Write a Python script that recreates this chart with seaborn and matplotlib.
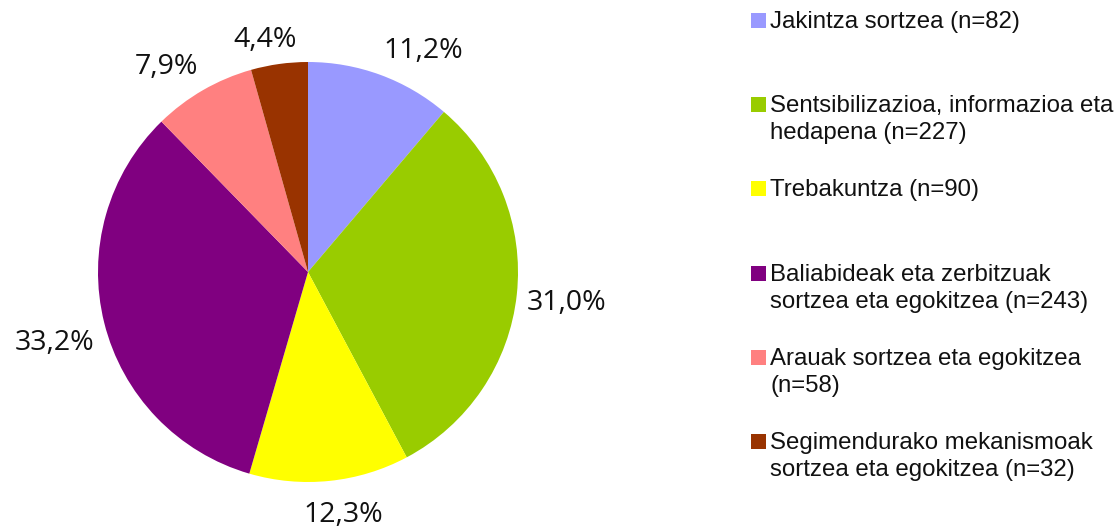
import numpy as np
import matplotlib
matplotlib.use("Agg")
import matplotlib.pyplot as plt
from matplotlib.patches import Rectangle
import seaborn as sns

# data
categories = [
    "Jakintza sortzea (n=82)",
    "Sentsibilizazioa, informazioa eta\nhedapena (n=227)",
    "Trebakuntza (n=90)",
    "Baliabideak eta zerbitzuak\nsortzea eta egokitzea (n=243)",
    "Arauak sortzea eta egokitzea\n(n=58)",
    "Segimendurako mekanismoak\nsortzea eta egokitzea (n=32)",
]
counts = [82, 227, 90, 243, 58, 32]
colors = ["#9999FF", "#99CC00", "#FFFF00", "#800080", "#FF8080", "#993300"]

sns.set_theme(style="white")
plt.rcParams["font.family"] = ["Liberation Sans", "DejaVu Sans"]

W, H = 1120, 527
fig = plt.figure(figsize=(W / 100, H / 100), dpi=100)

# pie: centre (308, 272) px, radius 210 px
cx, cy, r = 308, 272, 210
ax = fig.add_axes([(cx - r) / W, (H - cy - r) / H, 2 * r / W, 2 * r / H])

def fmt(p):
    return f"{p:.1f}%".replace(".", ",")

wedges, texts, autotexts = ax.pie(
    counts, colors=colors, startangle=90, counterclock=False,
    autopct=fmt, pctdistance=1.2,
    wedgeprops=dict(linewidth=0),
    textprops=dict(family=["Open Sans", "DejaVu Sans"], fontsize=20.5, color="#111111"),
)
ax.set_xlim(-1, 1)
ax.set_ylim(-1, 1)
ax.set_aspect("equal")
ax.axis("off")

# Excel-like "outside end" labels: the box corner/edge facing the pie
# sits a small gap off the slice's mid point on the rim
fig.canvas.draw()
renderer = fig.canvas.get_renderer()
gap = 10
for w, t in zip(wedges, autotexts):
    t.set_ha("center")
    t.set_va("center")
    ang = np.deg2rad((w.theta1 + w.theta2) / 2)
    bb = t.get_window_extent(renderer)
    hw, hh = bb.width / 2, bb.height / 2
    c, s = np.cos(ang), np.sin(ang)
    gx, gy = np.clip(3 * c, -1, 1), np.clip(3 * s, -1, 1)
    px = (r + gap) * c + hw * gx
    py = (r + gap) * s + hh * gy + 10 * min(gy, 0)  # labels below sit a bit lower
    t.set_position((px / r, py / r))

# legend, Excel style: entries start at even steps, square beside first line
y0, step, line_h = 28, 84.2, 27
for i, (lab, col) in enumerate(zip(categories, colors)):
    base = y0 + i * step
    fig.patches.append(Rectangle((751 / W, 1 - base / H), 15 / W, 15 / H,
                                 transform=fig.transFigure, facecolor=col,
                                 edgecolor="none", figure=fig))
    for k, line in enumerate(lab.split("\n")):
        fig.text(770 / W, 1 - (base + k * line_h) / H, line,
                 fontsize=17.3, color="#111111", ha="left", va="baseline")

fig.savefig("out.png", dpi=100, facecolor="white")
